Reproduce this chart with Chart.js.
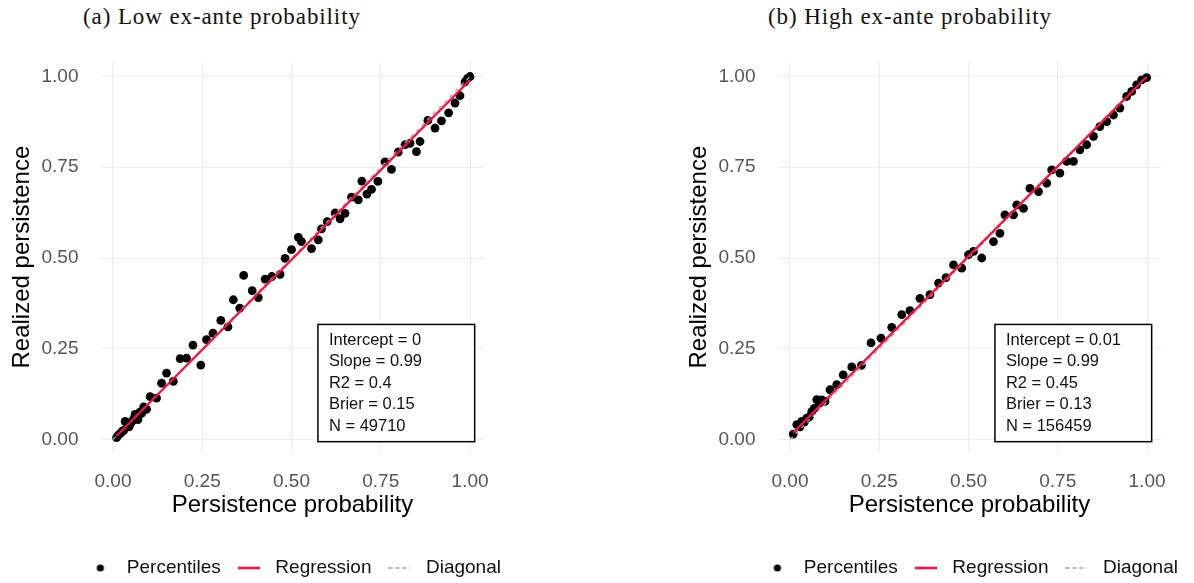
<!DOCTYPE html>
<html>
<head>
  <meta charset="UTF-8" />
  <title>Calibration of persistence probabilities</title>
  <style>
    body { margin: 0; width: 1194px; height: 583px; overflow: hidden; background: #fff; position: relative; }
    .cap { position: absolute; top: 6px; font-family: "Liberation Serif", "Times New Roman", serif; font-size: 23px; line-height: 22px; letter-spacing: 0.9px; color: #111; white-space: nowrap; }
    .panel { position: absolute; top: 0; width: 517px; height: 600px; }
  </style>
</head>
<body>
  <div class="cap" style="left: 83px;">(a) Low ex-ante probability</div>
  <div class="cap" style="left: 768px;">(b) High ex-ante probability</div>
  <div class="panel" style="left: 0;"><canvas id="lowChart" width="517" height="600"></canvas></div>
  <div class="panel" style="left: 677px;"><canvas id="highChart" width="517" height="600"></canvas></div>
  <script src="https://cdn.jsdelivr.net/npm/chart.js"></script>
  <script>
    const tickValues = [0, 0.25, 0.5, 0.75, 1];
    const seriesNames = ['Percentiles', 'Regression', 'Diagonal'];
    const statNames = ['Intercept', 'Slope', 'R2', 'Brier', 'N'];

    // percentile bins: mean predicted probability vs realized share
    const lowX = [0.010, 0.015, 0.020, 0.025, 0.030, 0.034, 0.040, 0.045, 0.050, 0.055, 0.060, 0.062, 0.070, 0.075, 0.080, 0.086, 0.094,
      0.104, 0.122, 0.136, 0.150, 0.169, 0.188, 0.206, 0.224, 0.246, 0.262, 0.280, 0.302, 0.322, 0.337, 0.355, 0.366, 0.390, 0.407,
      0.426, 0.445, 0.468, 0.482, 0.500, 0.519, 0.528, 0.556, 0.575, 0.584, 0.600, 0.622, 0.636, 0.650, 0.668, 0.687, 0.697, 0.711,
      0.724, 0.742, 0.762, 0.780, 0.799, 0.818, 0.832, 0.850, 0.860, 0.882, 0.902, 0.920, 0.940, 0.958, 0.972, 0.986, 0.993, 1.000];
    const lowY = [0.005, 0.012, 0.016, 0.022, 0.025, 0.050, 0.040, 0.035, 0.045, 0.052, 0.060, 0.069, 0.055, 0.075, 0.072, 0.090, 0.083,
      0.118, 0.114, 0.155, 0.183, 0.160, 0.223, 0.224, 0.260, 0.205, 0.275, 0.293, 0.328, 0.310, 0.385, 0.362, 0.452, 0.410, 0.391,
      0.442, 0.449, 0.455, 0.499, 0.523, 0.557, 0.545, 0.526, 0.550, 0.580, 0.600, 0.624, 0.608, 0.623, 0.668, 0.660, 0.712, 0.676,
      0.689, 0.711, 0.765, 0.744, 0.792, 0.812, 0.816, 0.793, 0.821, 0.879, 0.858, 0.878, 0.900, 0.927, 0.947, 0.985, 0.995, 1.000];

    const highX = [0.009, 0.019, 0.028, 0.033, 0.040, 0.047, 0.054, 0.061, 0.068, 0.075, 0.082, 0.089, 0.098, 0.112, 0.131, 0.149, 0.173,
      0.200, 0.227, 0.255, 0.285, 0.313, 0.336, 0.364, 0.392, 0.416, 0.437, 0.458, 0.481, 0.500, 0.514, 0.537, 0.570, 0.588, 0.602,
      0.626, 0.635, 0.654, 0.672, 0.696, 0.719, 0.733, 0.756, 0.775, 0.794, 0.812, 0.831, 0.850, 0.868, 0.887, 0.906, 0.924, 0.943,
      0.957, 0.971, 0.985, 0.999];
    const highY = [0.015, 0.041, 0.035, 0.050, 0.048, 0.059, 0.062, 0.077, 0.086, 0.110, 0.100, 0.109, 0.105, 0.137, 0.151, 0.178, 0.200,
      0.204, 0.266, 0.279, 0.309, 0.344, 0.355, 0.389, 0.399, 0.431, 0.446, 0.481, 0.472, 0.509, 0.518, 0.500, 0.545, 0.568, 0.619,
      0.619, 0.646, 0.637, 0.692, 0.683, 0.706, 0.743, 0.734, 0.766, 0.766, 0.798, 0.812, 0.835, 0.862, 0.876, 0.894, 0.913, 0.945,
      0.959, 0.977, 0.991, 0.997];

    const lowStats = [0, 0.99, 0.4, 0.15, 49710];
    const highStats = [0.01, 0.99, 0.45, 0.13, 156459];

    const sans = '"Liberation Sans", Arial, Helvetica, sans-serif';
    const red = '#ee1540';
    const grey = '#a8a8a8';

    // small legend glyphs
    function glyph(w, h, draw) {
      const c = document.createElement('canvas');
      c.width = w; c.height = h;
      draw(c.getContext('2d'));
      return c;
    }
    const legendGlyphs = [
      glyph(10, 10, g => { g.fillStyle = '#000'; g.beginPath(); g.arc(5, 5, 3.6, 0, Math.PI * 2); g.fill(); }),
      glyph(22, 6, g => { g.strokeStyle = red; g.lineWidth = 2.6; g.beginPath(); g.moveTo(0, 3); g.lineTo(22, 3); g.stroke(); }),
      glyph(22, 6, g => { g.strokeStyle = grey; g.lineWidth = 1.4; g.setLineDash([4, 3]); g.beginPath(); g.moveTo(0, 3); g.lineTo(22, 3); g.stroke(); })
    ];

    // framed stats box in the lower right of the panel
    const statsBox = {
      id: 'statsBox',
      afterDatasetsDraw(chart, args, opts) {
        const { ctx, scales: { x, y } } = chart;
        const left = x.getPixelForValue(0.574), right = x.getPixelForValue(1.013);
        const top = y.getPixelForValue(0.317), bottom = y.getPixelForValue(-0.006);
        ctx.save();
        ctx.fillStyle = '#fff';
        ctx.fillRect(left, top, right - left, bottom - top);
        ctx.strokeStyle = '#000';
        ctx.lineWidth = 1.5;
        ctx.strokeRect(left, top, right - left, bottom - top);
        ctx.fillStyle = '#111';
        ctx.font = '16.5px ' + sans;
        ctx.textBaseline = 'middle';
        opts.values.forEach((v, i) => {
          ctx.fillText(statNames[i] + ' = ' + v, left + 11, top + 16 + i * 21.5);
        });
        ctx.restore();
      }
    };

    // the legend sits centred under the whole panel, a bit right of the canvas centre
    const legendShift = {
      id: 'legendShift',
      afterLayout(chart) {
        chart.legend.left += 50;
        chart.legend.right += 50;
      }
    };

    function makeChart(id, xs, ys, stats) {
      const points = xs.map((v, i) => ({ x: v, y: ys[i] }));
      const x0 = Math.min(...xs), x1 = Math.max(...xs);
      const fit = [x0, x1].map(v => ({ x: v, y: stats[0] + stats[1] * v }));
      const diag = [{ x: tickValues[0], y: tickValues[0] }, { x: tickValues[4], y: tickValues[4] }];

      const axis = (title, fitSize) => ({
        type: 'linear',
        min: -0.035,
        max: 1.04,
        afterBuildTicks: s => { s.ticks = tickValues.map(v => ({ value: v })); },
        afterFit: fitSize,
        border: { display: false },
        grid: { color: '#ececec', lineWidth: 1, drawTicks: false },
        ticks: {
          callback: v => v.toFixed(2),
          color: '#555',
          font: { family: sans, size: 19 },
          maxRotation: 0,
          autoSkip: false
        },
        title: { display: true, text: title, color: '#000', font: { family: sans, size: 24 } }
      });

      const xAxis = axis('Persistence probability', s => { s.height = 95.3; });
      xAxis.ticks.padding = 18;
      xAxis.title.padding = { top: 0, bottom: 28 };
      const yAxis = axis('Realized persistence', s => { s.width = 100.5; });
      yAxis.ticks.padding = 22;
      yAxis.title.padding = { top: 8, bottom: 0 };

      return new Chart(document.getElementById(id), {
        type: 'scatter',
        data: {
          datasets: [
            { label: seriesNames[0], data: points, order: 3, pointRadius: 4.4, pointBackgroundColor: '#000', pointBorderWidth: 0, showLine: false },
            { label: seriesNames[1], data: fit, order: 1, showLine: true, borderColor: red, borderWidth: 2.2, pointRadius: 0, pointStyle: 'line' },
            { label: seriesNames[2], data: diag, order: 2, showLine: true, borderColor: grey, borderWidth: 1.3, borderDash: [4, 4], pointRadius: 0, pointStyle: 'line' }
          ]
        },
        options: {
          responsive: false,
          animation: false,
          events: [],
          layout: { padding: { top: 62, right: 32.7, bottom: 12.5, left: 0 } },
          scales: { x: xAxis, y: yAxis },
          plugins: {
            tooltip: { enabled: false },
            statsBox: { values: stats },
            legend: {
              position: 'bottom',
              labels: {
                usePointStyle: true,
                pointStyleWidth: 34,
                padding: 11,
                color: '#111',
                font: { family: sans, size: 19 },
                sort: (a, b) => a.datasetIndex - b.datasetIndex,
                generateLabels: chart => Chart.defaults.plugins.legend.labels.generateLabels(chart).map(item => {
                  item.pointStyle = legendGlyphs[item.datasetIndex];
                  return item;
                })
              }
            }
          }
        },
        plugins: [statsBox, legendShift]
      });
    }

    makeChart('lowChart', lowX, lowY, lowStats);
    makeChart('highChart', highX, highY, highStats);
  </script>
</body>
</html>
